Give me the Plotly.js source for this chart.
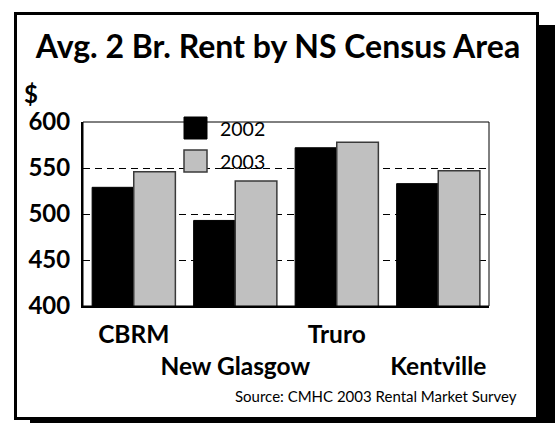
<!DOCTYPE html>
<html>
<head>
<meta charset="utf-8">
<script src="https://cdn.plot.ly/plotly-3.0.1.min.js"></script>
<style>
  html, body { margin: 0; padding: 0; background: #fff; }
  #wrap { position: relative; width: 556px; height: 423px; overflow: hidden; }
  #frame { position: absolute; left: 14px; top: 12px; width: 525px; height: 408px;
           box-sizing: border-box; border: 3px solid #000; background: #fff;
           box-shadow: 16px 13px 0 0 #000; }
  #chart { position: absolute; left: 0; top: 0; width: 556px; height: 423px; }
</style>
</head>
<body>
<div id="wrap">
  <div id="frame"></div>
  <div id="chart"></div>
</div>
<script>
const categories = ['CBRM', 'New Glasgow', 'Truro', 'Kentville'];
const tickLabels = ['<b>CBRM</b>', '<br><b>New Glasgow</b>', '<b>Truro</b>', '<br><b>Kentville</b>'];
const seriesNames = ['2002', '2003'];
const rent2002 = [529, 493, 572, 533];
const rent2003 = [546, 536, 578, 547];
const yTicks = [400, 450, 500, 550, 600];

const FONT = 'Lato, "Open Sans", sans-serif';

const traces = [
  { type: 'bar', name: seriesNames[0], x: categories, y: rent2002,
    marker: { color: '#000000', line: { color: '#000000', width: 1 } }, showlegend: false },
  { type: 'bar', name: seriesNames[1], x: categories, y: rent2003,
    marker: { color: '#c0c0c0', line: { color: '#3a3a3a', width: 1.5 } }, showlegend: false }
];

// plot-area pixel box and pixel -> paper helpers (for legend/annotation placement)
const L = 83, R = 489, T = 122, B = 306;
const px = v => (v - L) / (R - L);
const py = v => (B - v) / (B - T);

const layout = {
  width: 556, height: 423,
  paper_bgcolor: 'rgba(0,0,0,0)', plot_bgcolor: 'rgba(0,0,0,0)',
  margin: { l: L, r: 556 - R, t: T, b: 423 - B, pad: 0 },
  barmode: 'group', bargap: 0.18, bargroupgap: 0,
  font: { family: FONT, color: '#000' },
  title: { text: '<b>Avg. 2 Br. Rent by NS Census Area</b>',
           font: { family: FONT, size: 32, color: '#000' },
           xref: 'container', yref: 'container', x: 278 / 556, y: 1 - 46.5 / 423,
           xanchor: 'center', yanchor: 'middle' },
  xaxis: { type: 'category', tickmode: 'array', tickvals: categories, ticktext: tickLabels,
           tickangle: 0,
           showline: true, linecolor: '#000', linewidth: 2, ticks: '',
           showgrid: false, ticklabelstandoff: 6,
           tickfont: { family: FONT, size: 24.5, color: '#000' } },
  yaxis: { range: [400, 600], tickmode: 'array', tickvals: yTicks,
           ticktext: yTicks.map(v => '<b>' + v + '</b>'),
           showline: true, linecolor: '#000', linewidth: 2, ticks: '',
           showgrid: true, gridcolor: '#000', gridwidth: 1, griddash: '7px,5px',
           zeroline: false, ticklabelstandoff: 6,
           tickfont: { family: FONT, size: 24, color: '#000' } },
  shapes: [
    { type: 'rect', xref: 'paper', yref: 'paper', x0: 0, x1: 1, y0: 0, y1: 1,
      line: { color: '#000', width: 1 }, layer: 'above' },
    { type: 'rect', xref: 'paper', yref: 'paper', x0: px(184), x1: px(207), y0: py(139), y1: py(117),
      fillcolor: '#000', line: { color: '#000', width: 1 } },
    { type: 'rect', xref: 'paper', yref: 'paper', x0: px(184), x1: px(207), y0: py(172), y1: py(150),
      fillcolor: '#c0c0c0', line: { color: '#3a3a3a', width: 1.5 } }
  ],
  annotations: [
    { text: seriesNames[0], xref: 'paper', yref: 'paper', x: px(218), y: py(128),
      xanchor: 'left', yanchor: 'middle', showarrow: false,
      font: { family: FONT, size: 19.5, color: '#000' } },
    { text: seriesNames[1], xref: 'paper', yref: 'paper', x: px(218), y: py(161),
      xanchor: 'left', yanchor: 'middle', showarrow: false,
      font: { family: FONT, size: 19.5, color: '#000' } },
    { text: '<b>$</b>', xref: 'paper', yref: 'paper', x: px(31), y: py(93),
      xanchor: 'center', yanchor: 'middle', showarrow: false,
      font: { family: FONT, size: 24, color: '#000' } },
    { text: 'Source: CMHC 2003 Rental Market Survey', xref: 'paper', yref: 'paper',
      x: px(519), y: py(396), xanchor: 'right', yanchor: 'middle', showarrow: false,
      font: { family: FONT, size: 15, color: '#000' } }
  ]
};

Plotly.newPlot('chart', traces, layout, { displayModeBar: false, staticPlot: true });
</script>
</body>
</html>
